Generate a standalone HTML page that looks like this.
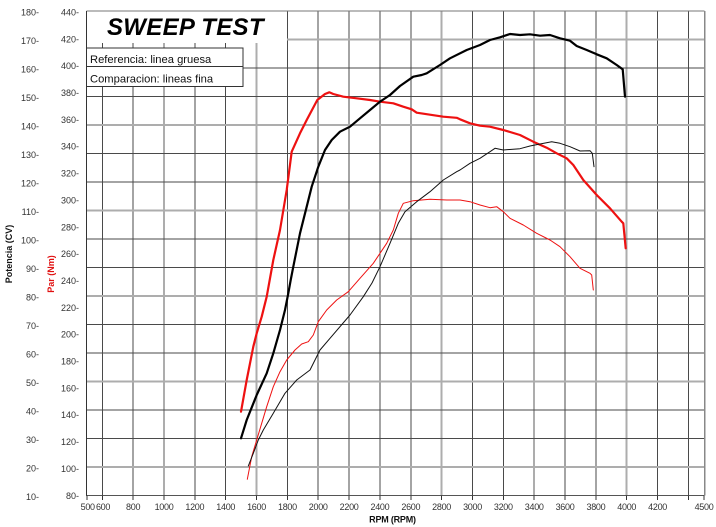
<!DOCTYPE html>
<html><head><meta charset="utf-8"><style>
html,body{margin:0;padding:0;background:#fff;}
svg{display:block;}
text{font-family:"Liberation Sans",sans-serif;}
</style></head><body>
<svg width="716" height="527" viewBox="0 0 716 527" xmlns="http://www.w3.org/2000/svg">
<rect x="0" y="0" width="716" height="527" fill="#fff"/>
<g id="grid" shape-rendering="crispEdges">
<!-- vertical dark lines -->
<g stroke="#4a4a4a" stroke-width="1">
<line x1="102.3" y1="11" x2="102.3" y2="495.5"/>
<line x1="133.1" y1="11" x2="133.1" y2="495.5"/>
<line x1="194.8" y1="11" x2="194.8" y2="495.5"/>
<line x1="225.7" y1="11" x2="225.7" y2="495.5"/>
<line x1="287.4" y1="11" x2="287.4" y2="495.5"/>
<line x1="318.2" y1="11" x2="318.2" y2="495.5"/>
<line x1="349.1" y1="11" x2="349.1" y2="495.5"/>
<line x1="379.9" y1="11" x2="379.9" y2="495.5"/>
<line x1="410.8" y1="11" x2="410.8" y2="495.5"/>
<line x1="472.5" y1="11" x2="472.5" y2="495.5"/>
<line x1="503.3" y1="11" x2="503.3" y2="495.5"/>
<line x1="565" y1="11" x2="565" y2="495.5"/>
<line x1="595.9" y1="11" x2="595.9" y2="495.5"/>
<line x1="657.6" y1="11" x2="657.6" y2="495.5"/>
<line x1="688.4" y1="11" x2="688.4" y2="495.5"/>
</g>
<g stroke="#adadad" stroke-width="2">
<line x1="164" y1="11" x2="164" y2="495.5"/>
<line x1="256.5" y1="11" x2="256.5" y2="495.5"/>
<line x1="441.6" y1="11" x2="441.6" y2="495.5"/>
<line x1="534.2" y1="11" x2="534.2" y2="495.5"/>
<line x1="626.7" y1="11" x2="626.7" y2="495.5"/>
</g>
<!-- horizontal lines y=495.5-28.5k -->
<g stroke="#4a4a4a" stroke-width="1">
<line x1="86.5" y1="438.5" x2="704.5" y2="438.5"/>
<line x1="86.5" y1="410" x2="704.5" y2="410"/>
<line x1="86.5" y1="353" x2="704.5" y2="353"/>
<line x1="86.5" y1="324.5" x2="704.5" y2="324.5"/>
<line x1="86.5" y1="267.5" x2="704.5" y2="267.5"/>
<line x1="86.5" y1="239" x2="704.5" y2="239"/>
<line x1="86.5" y1="182" x2="704.5" y2="182"/>
<line x1="86.5" y1="153.5" x2="704.5" y2="153.5"/>
<line x1="86.5" y1="96.5" x2="704.5" y2="96.5"/>
<line x1="86.5" y1="68" x2="704.5" y2="68"/>
</g>
<g stroke="#adadad" stroke-width="2">
<line x1="86.5" y1="467" x2="704.5" y2="467"/>
<line x1="86.5" y1="381.5" x2="704.5" y2="381.5"/>
<line x1="86.5" y1="296" x2="704.5" y2="296"/>
<line x1="86.5" y1="210.5" x2="704.5" y2="210.5"/>
<line x1="86.5" y1="125" x2="704.5" y2="125"/>
<line x1="86.5" y1="39.5" x2="704.5" y2="39.5"/>
</g>
</g>
<!-- title area & legend -->
<rect x="87" y="11.5" width="200" height="31.5" fill="#fff"/>
<rect x="86.5" y="48" width="156.5" height="38.5" fill="#fff" stroke="#333" stroke-width="1" shape-rendering="crispEdges"/>
<line x1="86.5" y1="66.5" x2="243" y2="66.5" stroke="#333" stroke-width="1" shape-rendering="crispEdges"/>
<text x="107" y="35" font-size="24" font-weight="bold" font-style="italic" fill="#000" letter-spacing="0.3">SWEEP TEST</text>
<text x="90" y="63" font-size="11.2" fill="#111">Referencia: linea gruesa</text>
<text x="90" y="82.5" font-size="11.2" fill="#111">Comparacion: lineas fina</text>
<!-- borders -->
<g shape-rendering="crispEdges">
<line x1="86.5" y1="11" x2="704.5" y2="11" stroke="#777" stroke-width="1"/>
<line x1="704.5" y1="11" x2="704.5" y2="495.5" stroke="#888" stroke-width="1.5"/>
<line x1="86.5" y1="11" x2="86.5" y2="496" stroke="#333" stroke-width="1.3"/>
<line x1="86.5" y1="495.5" x2="704.5" y2="495.5" stroke="#555" stroke-width="1.3"/>
</g>
<!-- x ticks -->
<g stroke="#333" stroke-width="1" shape-rendering="crispEdges">
<line x1="86.9" y1="495.5" x2="86.9" y2="500"/>
<line x1="102.3" y1="495.5" x2="102.3" y2="500"/>
<line x1="133.1" y1="495.5" x2="133.1" y2="500"/>
<line x1="164" y1="495.5" x2="164" y2="500"/>
<line x1="194.8" y1="495.5" x2="194.8" y2="500"/>
<line x1="225.7" y1="495.5" x2="225.7" y2="500"/>
<line x1="256.5" y1="495.5" x2="256.5" y2="500"/>
<line x1="287.4" y1="495.5" x2="287.4" y2="500"/>
<line x1="318.2" y1="495.5" x2="318.2" y2="500"/>
<line x1="349.1" y1="495.5" x2="349.1" y2="500"/>
<line x1="379.9" y1="495.5" x2="379.9" y2="500"/>
<line x1="410.8" y1="495.5" x2="410.8" y2="500"/>
<line x1="441.6" y1="495.5" x2="441.6" y2="500"/>
<line x1="472.5" y1="495.5" x2="472.5" y2="500"/>
<line x1="503.3" y1="495.5" x2="503.3" y2="500"/>
<line x1="534.2" y1="495.5" x2="534.2" y2="500"/>
<line x1="565" y1="495.5" x2="565" y2="500"/>
<line x1="595.9" y1="495.5" x2="595.9" y2="500"/>
<line x1="626.7" y1="495.5" x2="626.7" y2="500"/>
<line x1="657.6" y1="495.5" x2="657.6" y2="500"/>
<line x1="688.4" y1="495.5" x2="688.4" y2="500"/>
<line x1="704" y1="495.5" x2="704" y2="500"/>
</g>
<!-- x labels -->
<g font-size="9" fill="#333" text-anchor="middle" letter-spacing="-0.3">
<text x="87.7" y="510">500</text>
<text x="103" y="510">600</text>
<text x="133.1" y="510">800</text>
<text x="164" y="510">1000</text>
<text x="194.8" y="510">1200</text>
<text x="225.7" y="510">1400</text>
<text x="256.5" y="510">1600</text>
<text x="287.4" y="510">1800</text>
<text x="318.2" y="510">2000</text>
<text x="349.1" y="510">2200</text>
<text x="379.9" y="510">2400</text>
<text x="410.8" y="510">2600</text>
<text x="441.6" y="510">2800</text>
<text x="472.5" y="510">3000</text>
<text x="503.3" y="510">3200</text>
<text x="534.2" y="510">3400</text>
<text x="565" y="510">3600</text>
<text x="595.9" y="510">3800</text>
<text x="626.7" y="510">4000</text>
<text x="657.6" y="510">4200</text>
<text x="704" y="510">4500</text>
</g>
<text x="392.5" y="522.5" font-size="9" font-weight="bold" fill="#111" text-anchor="middle" letter-spacing="-0.2">RPM (RPM)</text>
<!-- CV labels -->
<g font-size="9" fill="#333" text-anchor="end">
<text x="39" y="15.5">180-</text>
<text x="39" y="44">170-</text>
<text x="39" y="72.5">160-</text>
<text x="39" y="101">150-</text>
<text x="39" y="129.5">140-</text>
<text x="39" y="158">130-</text>
<text x="39" y="186.5">120-</text>
<text x="39" y="215">110-</text>
<text x="39" y="243.5">100-</text>
<text x="39" y="272">90-</text>
<text x="39" y="300.5">80-</text>
<text x="39" y="329">70-</text>
<text x="39" y="357.5">60-</text>
<text x="39" y="386">50-</text>
<text x="39" y="414.5">40-</text>
<text x="39" y="443">30-</text>
<text x="39" y="471.5">20-</text>
<text x="39" y="500">10-</text>
</g>
<!-- Nm labels -->
<g font-size="9" fill="#333" text-anchor="end">
<text x="79" y="15.5">440-</text>
<text x="79" y="42.4">420-</text>
<text x="79" y="69.2">400-</text>
<text x="79" y="96">380-</text>
<text x="79" y="122.9">360-</text>
<text x="79" y="149.7">340-</text>
<text x="79" y="176.6">320-</text>
<text x="79" y="203.4">300-</text>
<text x="79" y="230.3">280-</text>
<text x="79" y="257.1">260-</text>
<text x="79" y="284">240-</text>
<text x="79" y="310.8">220-</text>
<text x="79" y="337.7">200-</text>
<text x="79" y="364.5">180-</text>
<text x="79" y="391.4">160-</text>
<text x="79" y="418.2">140-</text>
<text x="79" y="445.1">120-</text>
<text x="79" y="471.9">100-</text>
<text x="79" y="498.8">80-</text>
</g>
<!-- axis titles -->
<text transform="translate(12,254) rotate(-90)" font-size="9" font-weight="bold" fill="#111" text-anchor="middle">Potencia (CV)</text>
<text transform="translate(54,274) rotate(-90)" font-size="9" font-weight="bold" fill="#e01010" text-anchor="middle">Par (Nm)</text>
<!-- curves -->
<g fill="none" stroke-linejoin="round" stroke-linecap="round">
<polyline stroke="#ee1111" stroke-width="2.2" points="241,411.7 246.7,380 253.3,346.7 256.7,333.3 261.7,316.7 266.7,296.7 273.3,260 280,230 286.7,190 291.7,151.7 300,133.3 306.7,120 317.3,100 325,94 329.3,92.3 333.3,94 343.3,96.7 356.7,98.3 370,100 380,101.7 393.3,103.3 403.3,106.7 411.7,109.3 416.7,112.7 430,114.7 443.3,116.7 456.7,117.8 460,119.3 470,123.3 480,125.7 490,126.7 503.3,130 520,135 533.3,141.7 546.7,147.7 556.7,153.3 566.7,158.3 573.3,165 583.3,180 596.7,195 610,208.3 621.7,221.7 623.3,223.3 625.7,248.3"/>
<polyline stroke="#000" stroke-width="2.2" points="241,438.3 246.7,420 256.7,395 266.7,373.3 273.3,353.3 280,330 285,310 288.3,293.3 290.7,280 293.3,266.7 300,233.3 306.7,206.7 311.7,186.7 318.3,166.7 325,150 331.7,140 340,131.7 350,126.7 360,118.3 370,110 380,101.7 390,95 400,86 413.3,76.7 421.7,75 426.7,73.3 440,65 450,58.3 466.7,50 480,45 490,40 500,37.3 510,34 520,35 530,34.3 540,35.7 550,35 560,38.3 570,40.7 576.7,46 586.7,50 596.7,54.3 606.7,58.3 616.7,65 622.7,69.3 625,96.7"/>
<polyline stroke="#ee1111" stroke-width="1" points="247.3,479.3 251.7,456.7 256.7,440 261.7,423.3 266.7,406.7 273.3,386.7 280,371.7 286.7,360 295,350 301.7,344 308.3,341.7 313.3,335 318.3,321.7 326.7,310 336.7,300 348.3,291.7 360,278.3 373.3,263.3 386.7,243.3 393.3,230 398.3,213.3 403.3,203.3 413.3,200.7 430,199.3 446.7,200 460,200 470,201.7 480,205 490,207.7 496.7,206.7 503.3,211.7 510,218.3 523.3,225 536.7,233.3 550,240 560,246.7 570,256.7 580,268.3 590,273.3 591.7,275 593.3,290"/>
<polyline stroke="#111" stroke-width="1" points="248.3,466 253.3,453.3 258.3,440 263.3,430 273.3,413.3 285,393.3 296.7,380 310,370 320,350 330,338.3 350,315 363.3,296.7 372,283 380,266.7 390,243.3 398.3,223.3 405,211.7 416.7,201.7 430,191.7 443.3,180 456.7,171.7 460,170 470,163.3 480,158.3 490,151.7 495,148.3 503.3,150 520,148.7 530,146 540,144 551.7,141.7 560,143.3 570,146.7 580,151 590,150.7 592.3,153.3 594,166.7"/>
</g>
</svg>
</body></html>
